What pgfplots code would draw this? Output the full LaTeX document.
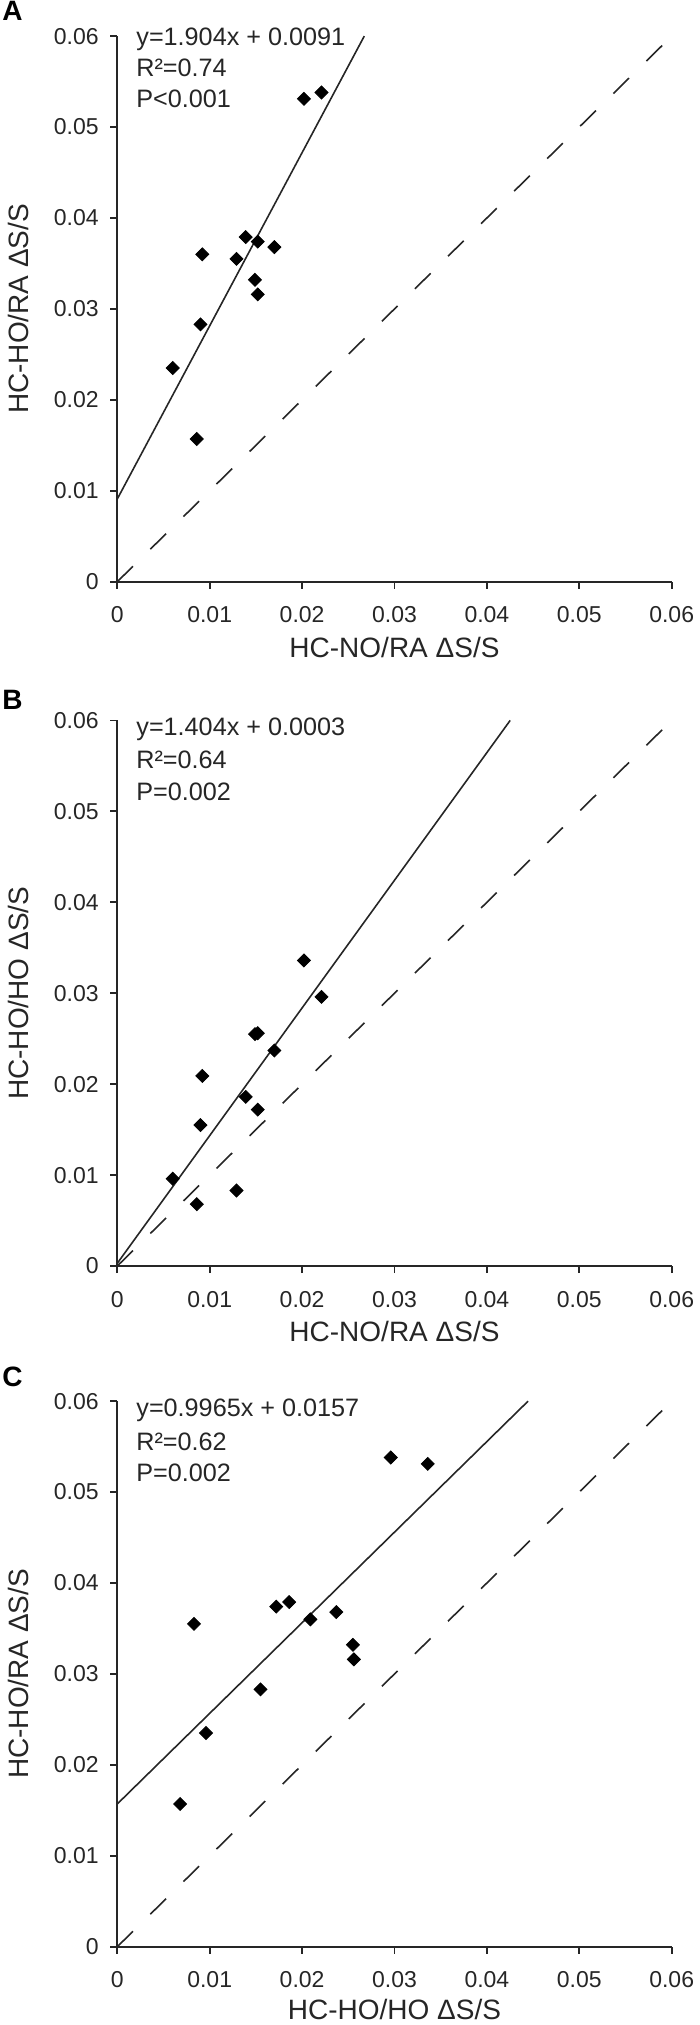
\documentclass[border=0pt]{standalone}
\usepackage{fontspec}
\setmainfont{Liberation Sans}
\usepackage{pgfplots}
\usepackage{pgfplotstable}
\pgfplotsset{compat=1.18}

\pgfplotstableread{
nora hoho hora
0.0060 0.0096 0.0235
0.0086 0.0068 0.0157
0.0090 0.0155 0.0283
0.0092 0.0209 0.0360
0.0129 0.0083 0.0355
0.0139 0.0186 0.0379
0.0152 0.0172 0.0374
0.0170 0.0237 0.0368
0.0149 0.0255 0.0332
0.0152 0.0256 0.0316
0.0202 0.0336 0.0531
0.0221 0.0296 0.0538
}\data

\pgfplotsset{
  myax/.style={
    scale only axis,
    width=277.2pt, height=272.8pt,
    xmin=0, xmax=0.06, ymin=0, ymax=0.06,
    scaled ticks=false,
    axis x line=bottom, axis y line=left,
    axis line style={line width=1pt, -, black!85},
    tick style={line width=0.9pt, black!85},
    major tick length=3.5pt,
    tick align=outside,
    xtick={0,0.01,0.02,0.03,0.04,0.05,0.06},
    ytick={0,0.01,0.02,0.03,0.04,0.05,0.06},
    xticklabels={0,0.01,0.02,0.03,0.04,0.05,0.06},
    yticklabels={0,0.01,0.02,0.03,0.04,0.05,0.06},
    ticklabel style={font=\fontsize{11.5}{13}\selectfont, text=black!85},
    xticklabel style={anchor=base, yshift=-17pt},
    yticklabel style={anchor=east, xshift=-2.3pt},
    label style={font=\fontsize{14}{16}\selectfont, text=black!85},
    xlabel style={at={(axis description cs:0.5,0)}, anchor=base, yshift=-37.8pt},
    ylabel style={at={(axis description cs:0,0.5)}, anchor=base, yshift=44.6pt},
    clip=false,
  },
  pts/.style={only marks, mark=square*, mark size=2.3pt,
    mark options={rotate=45, fill=black, draw=black}},
  fit/.style={no marks, line width=0.8pt, black!85},
  diag/.style={no marks, line width=0.8pt, black!85, dash pattern=on 11pt off 12.2pt},
}

\begin{document}
\begin{tikzpicture}
\path[use as bounding box] (0,0) rectangle (350pt,-1012.5pt);

% Panel A
\begin{axis}[myax, at={(58.65pt,-290.85pt)}, anchor=south west,
  xlabel={HC-NO/RA ΔS/S}, ylabel={HC-HO/RA ΔS/S}]
  \addplot[diag] coordinates {(0,0) (0.06,0.06)};
  \addplot[fit] coordinates {(0,0.0091) (0.02673,0.06)};
  \addplot[pts] table[x=nora, y=hora] {\data};
\end{axis}

% Panel B
\begin{axis}[myax, at={(58.65pt,-633pt)}, anchor=south west,
  xlabel={HC-NO/RA ΔS/S}, ylabel={HC-HO/HO ΔS/S}]
  \addplot[diag] coordinates {(0,0) (0.06,0.06)};
  \addplot[fit] coordinates {(0,0.0003) (0.04252,0.06)};
  \addplot[pts] table[x=nora, y=hoho] {\data};
\end{axis}

% Panel C
\begin{axis}[myax, at={(58.65pt,-973.35pt)}, anchor=south west,
  xlabel style={yshift=1.3pt},
  xlabel={HC-HO/HO ΔS/S}, ylabel={HC-HO/RA ΔS/S}]
  \addplot[diag] coordinates {(0,0) (0.06,0.06)};
  \addplot[fit] coordinates {(0,0.0157) (0.04446,0.06)};
  \addplot[pts] table[x=hoho, y=hora] {\data};
\end{axis}

\begin{scope}[every node/.style={anchor=base west, inner sep=0pt, text=black!85, font=\fontsize{12.6}{14}\selectfont}]
  \node at (68pt,-22.5pt) {y=1.904x + 0.0091};
  \node at (68pt,-38pt) {R²=0.74};
  \node at (68pt,-53.5pt) {P<0.001};
  \node at (68pt,-367.5pt) {y=1.404x + 0.0003};
  \node at (68pt,-384pt) {R²=0.64};
  \node at (68pt,-400pt) {P=0.002};
  \node at (68pt,-708.3pt) {y=0.9965x + 0.0157};
  \node at (68pt,-725pt) {R²=0.62};
  \node at (68pt,-740.8pt) {P=0.002};
\end{scope}

\begin{scope}[every node/.style={anchor=base west, inner sep=0pt, font=\bfseries\fontsize{14}{16}\selectfont}]
  \node at (1pt,-10pt) {A};
  \node at (1pt,-354.5pt) {B};
  \node at (1pt,-693pt) {C};
\end{scope}
\end{tikzpicture}
\end{document}
